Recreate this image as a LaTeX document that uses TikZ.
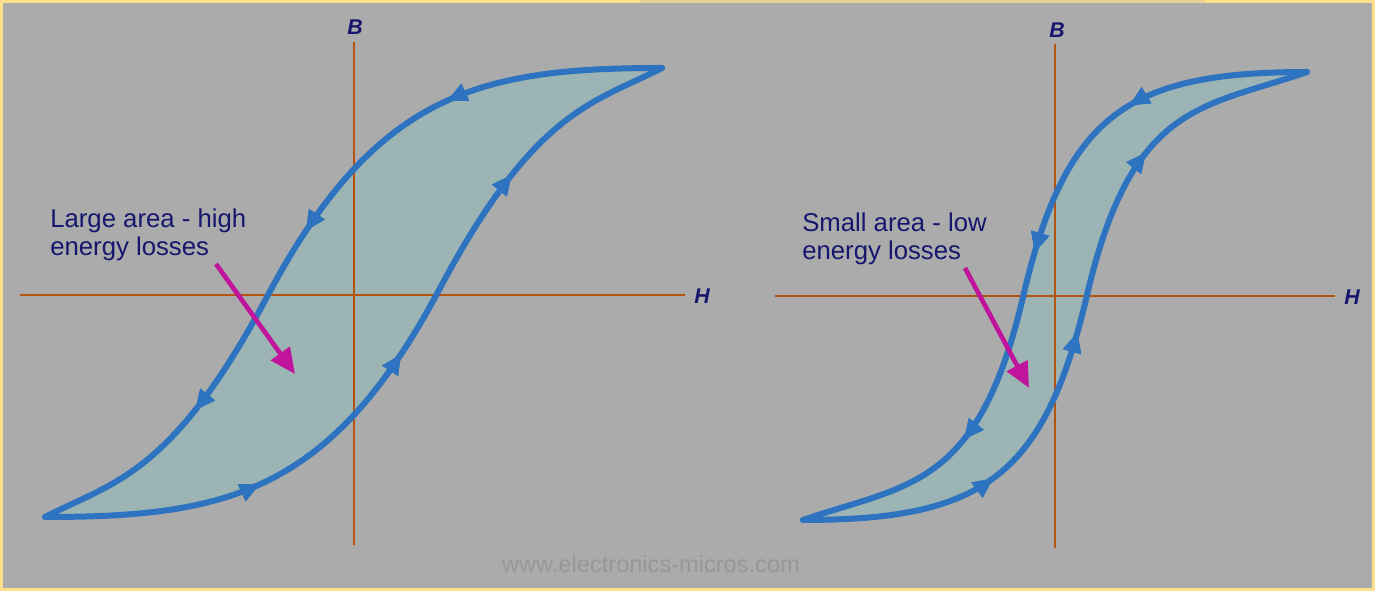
\documentclass[tikz,border=0pt]{standalone}
\usepackage{fontspec}
\setmainfont{Liberation Sans}
\usetikzlibrary{arrows.meta,decorations.markings}
\definecolor{bgyellow}{HTML}{FFE08A}
\definecolor{bggray}{HTML}{ABABAB}
\definecolor{loopfill}{HTML}{9CB4B4}
\definecolor{loopblue}{HTML}{2E73BF}
\definecolor{axiscol}{HTML}{B4540F}
\definecolor{navy}{HTML}{16166E}
\definecolor{magentaarr}{HTML}{C0149C}
\definecolor{wmark}{HTML}{979797}
\tikzset{
  axisline/.style={draw=axiscol,line width=1.8pt},
  axislabel/.style={text=navy,font=\bfseries\itshape\fontsize{16}{18}\selectfont,inner sep=0pt},
  note/.style={text=navy,font=\fontsize{19.3}{21}\selectfont,align=left,anchor=north west,inner sep=0pt},
  pointer/.style={draw=magentaarr,line width=3.5pt,-{Triangle[length=19pt,width=17pt]}},
  branch/.style={draw=loopblue,line width=4.5pt,line cap=round,line join=round},
  arr/.style={postaction={decorate},decoration={markings,
     mark=at position #1 with {\arrow[loopblue]{Triangle[length=15pt,width=13pt]}}}},
}
\begin{document}
\begin{tikzpicture}[x=0.75pt,y=-0.75pt]
\useasboundingbox (0,0) rectangle (1375,591);
\fill[bgyellow] (0,0) rectangle (1375,591);
\fill[bggray] (3,3) rectangle (1372,588);
\fill[bgyellow!70!bggray] (640,0) rectangle (1205,3);

% ---------- left loop ----------
\coordinate (LT) at (662,68);
\coordinate (LB) at (45,517);
\coordinate (LD) at (268,295);
\coordinate (LA) at (439,290);
\fill[loopfill] (LT) .. controls (480,68) and (376,92) .. (LD)
   .. controls (172,476) and (113,482) .. (LB)
   .. controls (227,517) and (331,493) .. (LA)
   .. controls (535,109) and (594,103) .. (LT) -- cycle;
\draw[axisline] (354,42) -- (354,545);
\draw[axisline] (20,295) -- (685,295);
\draw[branch,arr=0.27,arr=0.51,arr=0.77] (LT) .. controls (480,68) and (376,92) .. (LD)
   .. controls (172,476) and (113,482) .. (LB);
\draw[branch,arr=0.27,arr=0.51,arr=0.77] (LB) .. controls (227,517) and (331,493) .. (LA)
   .. controls (535,109) and (594,103) .. (LT);
\node[axislabel] (B1) at (355,27) {B};
\node[axislabel] (H1) at (702,296) {H};
\node[note] (T1) at (50,209) {Large area - high\\energy losses};
\coordinate (P1s) at (216,264);
\coordinate (P1e) at (295,374);
\draw[pointer] (P1s) -- (P1e);

% ---------- right loop ----------
\coordinate (RT) at (1307,72);
\coordinate (RB) at (803,520);
\coordinate (RD) at (1023,297);
\coordinate (RA) at (1087,295);
\fill[loopfill] (RT) .. controls (1127,72) and (1065.5,115) .. (RD)
   .. controls (978,490) and (907,484) .. (RB)
   .. controls (983,520) and (1044.5,477) .. (RA)
   .. controls (1132,102) and (1203,108) .. (RT) -- cycle;
\draw[axisline] (1055,44) -- (1055,548);
\draw[axisline] (775,296) -- (1335,296);
\draw[branch,arr=0.245,arr=0.485,arr=0.755] (RT) .. controls (1127,72) and (1065.5,115) .. (RD)
   .. controls (978,490) and (907,484) .. (RB);
\draw[branch,arr=0.265,arr=0.495,arr=0.755] (RB) .. controls (983,520) and (1044.5,477) .. (RA)
   .. controls (1132,102) and (1203,108) .. (RT);
\node[axislabel] (B2) at (1057,30) {B};
\node[axislabel] (H2) at (1352,297) {H};
\node[note] (T2) at (802,213) {Small area - low\\energy losses};
\coordinate (P2s) at (965,268);
\coordinate (P2e) at (1029,388);
\draw[pointer] (P2s) -- (P2e);

% ---------- watermark ----------
\node[text=wmark,font=\fontsize{17.7}{20}\selectfont,inner sep=0pt] (W) at (651,564) {www.electronics-micros.com};
\end{tikzpicture}
\end{document}
